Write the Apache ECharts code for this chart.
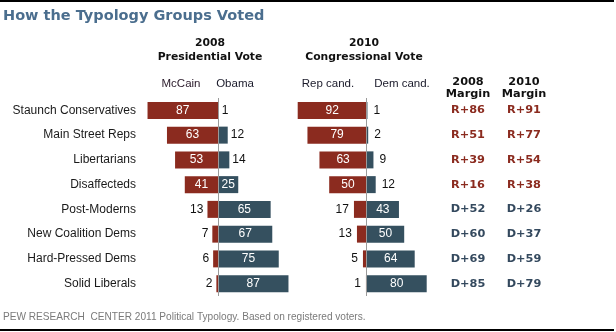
<!DOCTYPE html>
<html><head><meta charset="utf-8">
<script src="https://cdn.jsdelivr.net/npm/echarts@6/dist/echarts.min.js"></script>
<style>html,body{margin:0;padding:0;background:#fff}#c{width:616px;height:332px}</style>
</head><body><div id="c"></div>
<script>
const categories = ['Staunch Conservatives','Main Street Reps','Libertarians','Disaffecteds','Post-Moderns','New Coalition Dems','Hard-Pressed Dems','Solid Liberals'];
const mccain = [87,63,53,41,13,7,6,2];
const obama = [1,12,14,25,65,67,75,87];
const repCand = [92,79,63,50,17,13,5,1];
const demCand = [1,2,9,12,43,50,64,80];
const margin2008 = ['R+86','R+51','R+39','R+16','D+52','D+60','D+69','D+85'];
const margin2010 = ['R+91','R+77','R+54','R+38','D+26','D+37','D+59','D+79'];

const RED = '#8b2b1f', BLUE = '#35505f', AXIS = '#9a9a9a';
const LABEL_FONT = 'Liberation Sans';
const BOLD_FONT = 'DejaVu Sans';

function items(vals, sign, dist) {
  return vals.map(v => {
    const inside = v >= 20;
    return {
      value: sign * v,
      label: {
        position: inside ? 'inside' : (sign < 0 ? 'left' : 'right'),
        color: inside ? '#ffffff' : '#111111',
        distance: dist
      }
    };
  });
}
function barSeries(name, vals, sign, color, idx, dist, withLine) {
  const s = {
    name, type: 'bar', xAxisIndex: idx, yAxisIndex: idx,
    data: items(vals, sign, dist), barWidth: 17, barGap: '-100%',
    itemStyle: { color },
    label: { show: true, fontFamily: LABEL_FONT, fontSize: 12, formatter: p => Math.abs(p.value) },
    silent: true, animation: false
  };
  if (withLine) {
    s.markLine = {
      silent: true, symbol: 'none', animation: false,
      label: { show: false },
      lineStyle: { color: AXIS, width: 1, type: 'solid' },
      data: [{ xAxis: 0 }]
    };
  }
  return s;
}
function marginAxis(idx, data) {
  return {
    type: 'category', gridIndex: idx, inverse: true, data,
    axisLine: { show: false }, axisTick: { show: false },
    axisLabel: {
      margin: 0, align: 'center',
      formatter: v => (v[0] === 'R' ? '{r|' + v + '}' : '{d|' + v + '}'),
      rich: {
        r: { color: RED, fontFamily: BOLD_FONT, fontWeight: 'bold', fontSize: 11.3 },
        d: { color: '#34495e', fontFamily: BOLD_FONT, fontWeight: 'bold', fontSize: 11.3 }
      }
    }
  };
}
function txt(text, x, y, font, fill, align) {
  return { type: 'text', x, y, silent: true,
    style: { text, font, fill, textAlign: align || 'center', verticalAlign: 'middle' } };
}
const bold10 = 'bold 10.8px "DejaVu Sans"';
const reg11 = '11.5px "Liberation Sans"';

const chart = echarts.init(document.getElementById('c'), null, { renderer: 'canvas' });
chart.setOption({
  animation: false,
  backgroundColor: '#ffffff',
  grid: [
    { left: 137, top: 98, width: 162, height: 198 },
    { left: 291.7, top: 98, width: 150, height: 198 },
    { left: 468, top: 98, width: 1, height: 198 },
    { left: 524, top: 98, width: 1, height: 198 }
  ],
  xAxis: [
    { type: 'value', gridIndex: 0, min: -100, max: 100, show: false },
    { type: 'value', gridIndex: 1, min: -100, max: 100, show: false },
    { type: 'value', gridIndex: 2, min: 0, max: 1, show: false },
    { type: 'value', gridIndex: 3, min: 0, max: 1, show: false }
  ],
  yAxis: [
    { type: 'category', gridIndex: 0, inverse: true, data: categories,
      axisLine: { show: false }, axisTick: { show: false },
      axisLabel: { margin: 1, color: '#1a1a1a', fontFamily: LABEL_FONT, fontSize: 12 } },
    { type: 'category', gridIndex: 1, inverse: true, data: categories,
      axisLine: { show: false }, axisTick: { show: false }, axisLabel: { show: false } },
    marginAxis(2, margin2008),
    marginAxis(3, margin2010)
  ],
  series: [
    barSeries('McCain', mccain, -1, RED, 0, 4, false),
    barSeries('Obama', obama, 1, BLUE, 0, 3, true),
    barSeries('Rep cand.', repCand, -1, RED, 1, 5, false),
    barSeries('Dem cand.', demCand, 1, BLUE, 1, 6, true)
  ],
  graphic: [
    { type: 'line', silent: true, shape: { x1: 0, y1: 1, x2: 614, y2: 1 }, style: { stroke: '#000', lineWidth: 2 } },
    { type: 'line', silent: true, shape: { x1: 0, y1: 330, x2: 614, y2: 330 }, style: { stroke: '#000', lineWidth: 2 } },
    txt('How the Typology Groups Voted', 3, 16, 'bold 14.5px "DejaVu Sans"', '#4b6e8e', 'left'),
    txt('2008', 210, 43, bold10, '#111'),
    txt('Presidential Vote', 210, 57, bold10, '#111'),
    txt('2010', 364, 43, bold10, '#111'),
    txt('Congressional Vote', 364, 57, bold10, '#111'),
    txt('McCain', 181, 83.5, reg11, '#2a1a2a'),
    txt('Obama', 235, 83.5, reg11, '#1a1a2a'),
    txt('Rep cand.', 328, 84, reg11, '#1a1a2a'),
    txt('Dem cand.', 402, 84, reg11, '#1a1a2a'),
    txt('2008', 468, 82, 'bold 11.3px "DejaVu Sans"', '#111'),
    txt('Margin', 468, 94, 'bold 11.3px "DejaVu Sans"', '#111'),
    txt('2010', 524, 82, 'bold 11.3px "DejaVu Sans"', '#111'),
    txt('Margin', 524, 94, 'bold 11.3px "DejaVu Sans"', '#111'),
    txt('PEW RESEARCH  CENTER 2011 Political Typology. Based on registered voters.', 3, 317, '10.1px "Liberation Sans"', '#7a7a7a', 'left')
  ]
});
</script></body></html>
